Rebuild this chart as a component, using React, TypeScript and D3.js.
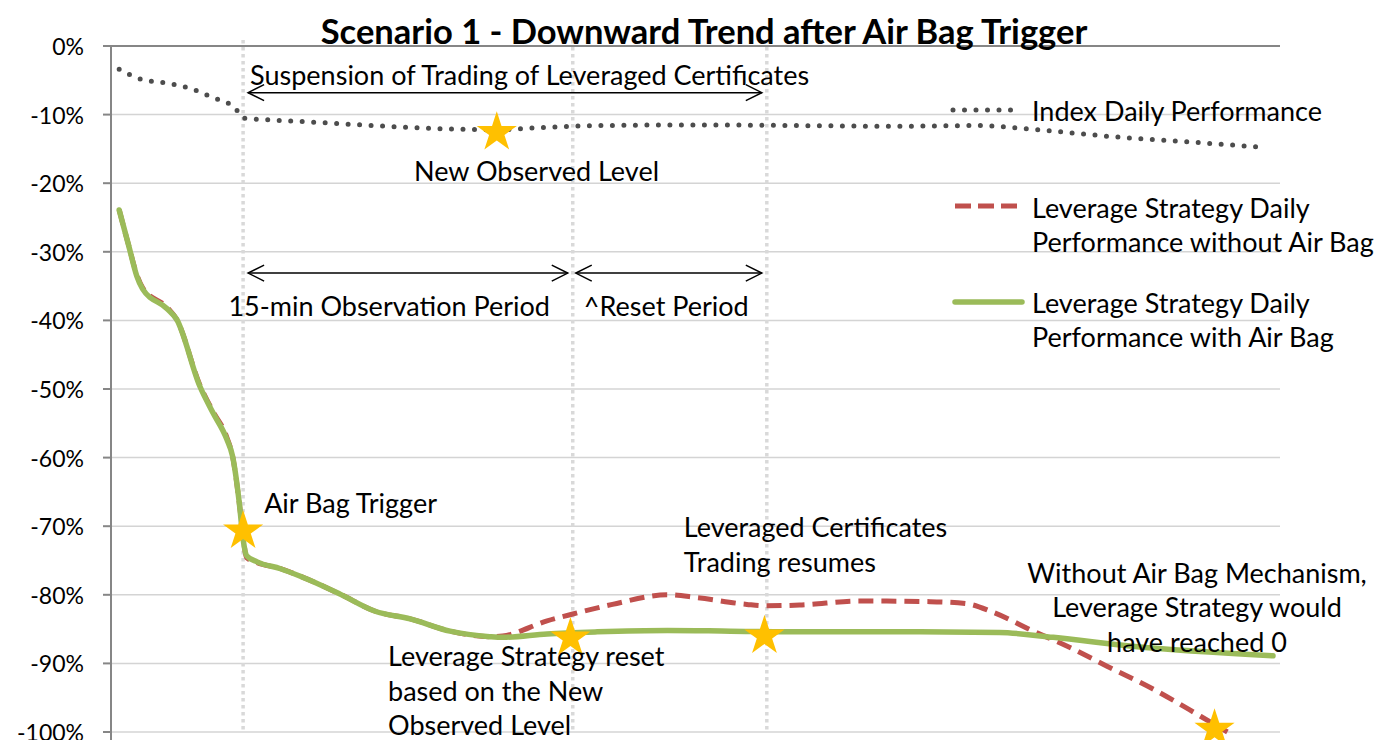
import React from "react";
import * as d3 from "d3";

// ---------- DATA ----------
const yTicks = [0, -10, -20, -30, -40, -50, -60, -70, -80, -90, -100];

// [time index (0-100), performance %]
const indexPerf: [number, number][] = [
  [0.7, -3.4], [2.7, -4.9], [4.8, -5.4], [6.8, -6.2], [8.7, -7.5], [10.6, -9.0], [11.3, -10.5],
  [12.8, -10.7], [16.2, -11.0], [20.4, -11.4], [24.7, -11.8], [29.0, -12.1], [33.0, -12.2],
  [36.7, -11.9], [41.8, -11.6], [50.4, -11.5], [58.9, -11.6], [67.5, -11.7], [74.3, -11.6],
  [77.8, -12.0], [86.3, -13.3], [93.2, -14.1], [98.7, -14.8],
];

const withoutAirBag: [number, number][] = [
  [0.7, -23.9], [1.5, -29.0], [2.2, -33.3], [2.7, -35.2], [4.8, -38.1], [5.6, -39.8], [7.6, -49.4],
  [8.7, -53.2], [9.9, -57.0], [10.4, -59.8], [11.0, -67.0], [11.3, -71.5], [11.6, -74.6],
  [12.5, -75.3], [14.5, -76.2], [16.2, -77.3], [19.6, -79.9], [22.6, -82.4], [25.6, -83.5],
  [29.0, -85.3], [32.4, -86.1], [33.5, -86.0], [37.3, -83.8], [39.5, -82.8], [42.9, -81.4],
  [47.6, -80.0], [50.1, -80.4], [54.4, -81.4], [56.1, -81.6], [58.9, -81.5], [64.1, -80.9],
  [70.1, -81.0], [73.2, -81.3], [75.4, -82.5], [78.9, -85.3], [81.8, -87.5], [85.2, -90.4],
  [89.1, -93.7], [93.2, -97.7], [95.5, -100.0],
];

const withAirBag: [number, number][] = [
  [0.7, -23.9], [1.5, -29.0], [2.2, -33.5], [2.7, -35.4], [4.8, -38.3], [5.6, -39.8], [7.6, -49.6],
  [8.7, -53.4], [9.9, -57.3], [10.4, -59.8], [11.0, -67.0], [11.3, -71.9], [11.6, -74.3],
  [12.5, -75.2], [14.5, -76.2], [16.2, -77.3], [19.6, -79.9], [22.6, -82.4], [25.6, -83.5],
  [29.0, -85.3], [32.4, -86.1], [33.5, -86.2], [37.3, -85.7], [41.6, -85.4], [47.6, -85.2],
  [53.0, -85.3], [58.9, -85.4], [67.5, -85.4], [76.0, -85.5], [80.6, -86.2], [87.4, -87.5],
  [99.4, -88.9],
];

const eventTimes = [11.3, 39.5, 56.1];

const starPoints: [number, number][] = [
  [11.3, -70.7], [33.0, -12.6], [39.3, -86.3], [55.9, -86.0], [94.4, -99.6],
];

const seriesNames = [
  "Index Daily Performance",
  ["Leverage Strategy Daily", "Performance without Air Bag"],
  ["Leverage Strategy Daily", "Performance with Air Bag"],
];

// ---------- LAYOUT ----------
const W = 1380;
const H = 740;
const L = 111, R = 1280, T = 46, B = 732;
const FONT = "Lato, 'Open Sans', sans-serif";

const x = d3.scaleLinear().domain([0, 100]).range([L, R]);
const y = d3.scaleLinear().domain([-100, 0]).range([B, T]);

const line = d3
  .line<[number, number]>()
  .x((d) => x(d[0]))
  .y((d) => y(d[1]))
  .curve(d3.curveMonotoneX);

const starPath = d3.symbol(d3.symbolStar, 500)() as string;

function Arrow({ x1, x2, yy }: { x1: number; x2: number; yy: number }) {
  const hx = 16, hy = 8;
  return (
    <g stroke="#000" strokeWidth={1.5} fill="none">
      <line x1={x1} y1={yy} x2={x2} y2={yy} />
      <path d={`M${x1 + hx},${yy - hy}L${x1},${yy}L${x1 + hx},${yy + hy}`} />
      <path d={`M${x2 - hx},${yy - hy}L${x2},${yy}L${x2 - hx},${yy + hy}`} />
    </g>
  );
}

export default function App() {
  const fs = 27;
  const lh = 34.5;
  const legX = 953;
  const legTextX = 1032;
  return (
    <svg
      width={W}
      height={H}
      style={{ position: "absolute", left: 0, top: 0, background: "#fff" }}
      fontFamily={FONT}
    >
      <rect width={W} height={H} fill="#fff" />
      {/* gridlines */}
      {yTicks.map((t) => (
        <line key={t} x1={L} x2={R} y1={y(t)} y2={y(t)} stroke="#d4d4d4" strokeWidth={1.5} />
      ))}
      {/* event verticals */}
      {eventTimes.map((t) => (
        <line
          key={t}
          x1={x(t)}
          x2={x(t)}
          y1={T - 6}
          y2={B}
          stroke="#d9d9d9"
          strokeWidth={3.5}
          strokeDasharray="3.5 3.5"
        />
      ))}
      {/* axes */}
      <line x1={L} x2={R} y1={y(0)} y2={y(0)} stroke="#868686" strokeWidth={2} />
      <line x1={L} x2={L} y1={T} y2={B + 8} stroke="#868686" strokeWidth={2} />
      {yTicks.map((t) => (
        <g key={t}>
          <line x1={L - 8} x2={L} y1={y(t)} y2={y(t)} stroke="#868686" strokeWidth={2} />
          <text
            x={84}
            y={y(t)}
            textAnchor="end"
            dominantBaseline="central"
            fontSize={23}
            fill="#000"
          >
            {`${t}%`}
          </text>
        </g>
      ))}

      {/* series */}
      <path
        d={line(indexPerf) as string}
        fill="none"
        stroke="#4d4d4d"
        strokeWidth={5}
        strokeLinecap="round"
        strokeDasharray="0 11.5"
      />
      <path
        d={line(withoutAirBag) as string}
        fill="none"
        stroke="#C0504D"
        strokeWidth={5}
        strokeDasharray="15 8"
      />
      <path
        d={line(withAirBag) as string}
        fill="none"
        stroke="#9BBB59"
        strokeWidth={5.5}
        strokeLinecap="round"
        strokeLinejoin="round"
      />

      {/* stars */}
      {starPoints.map((p, i) => (
        <path key={i} d={starPath} transform={`translate(${x(p[0])},${y(p[1])})`} fill="#FFC000" />
      ))}

      {/* title */}
      <text
        x={704}
        y={30}
        textAnchor="middle"
        dominantBaseline="central"
        fontSize={34.5}
        fontWeight="bold"
        fill="#000"
      >
        Scenario 1 - Downward Trend after Air Bag Trigger
      </text>

      {/* annotations */}
      <g fontSize={fs} fill="#000">
        <text x={x(11.9)} y={y(-4.1)} dominantBaseline="central">
          Suspension of Trading of Leveraged Certificates
        </text>
        <text x={x(36.4)} y={y(-18.1)} textAnchor="middle" dominantBaseline="central">
          New Observed Level
        </text>
        <text x={x(23.8)} y={y(-37.8)} textAnchor="middle" dominantBaseline="central">
          15-min Observation Period
        </text>
        <text x={x(47.5)} y={y(-37.8)} textAnchor="middle" dominantBaseline="central">
          ^Reset Period
        </text>
        <text x={x(13.1)} y={y(-66.5)} dominantBaseline="central">
          Air Bag Trigger
        </text>
        {["Leveraged Certificates", "Trading resumes"].map((s, i) => (
          <text key={s} x={x(49.0)} y={y(-70.1) + i * lh} dominantBaseline="central">
            {s}
          </text>
        ))}
        {["Leverage Strategy reset", "based on the New", "Observed Level"].map((s, i) => (
          <text key={s} x={x(23.7)} y={y(-88.9) + i * lh} dominantBaseline="central">
            {s}
          </text>
        ))}
        {["Without Air Bag Mechanism,", "Leverage Strategy would", "have reached 0"].map((s, i) => (
          <text
            key={s}
            x={x(92.9)}
            y={y(-76.7) + i * lh}
            textAnchor="middle"
            dominantBaseline="central"
          >
            {s}
          </text>
        ))}
      </g>

      {/* arrows */}
      <Arrow x1={x(eventTimes[0]) + 5} x2={x(eventTimes[2]) - 5} yy={y(-6.8)} />
      <Arrow x1={x(eventTimes[0]) + 5} x2={x(eventTimes[1]) - 5} yy={y(-33.1)} />
      <Arrow x1={x(eventTimes[1]) + 3} x2={x(eventTimes[2]) - 5} yy={y(-33.1)} />

      {/* legend */}
      <g fontSize={fs} fill="#000">
        <line
          x1={legX}
          x2={legX + 68}
          y1={110}
          y2={110}
          stroke="#4d4d4d"
          strokeWidth={5}
          strokeLinecap="round"
          strokeDasharray="0 11.5"
        />
        <text x={legTextX} y={110} dominantBaseline="central">
          {seriesNames[0] as string}
        </text>
        <line
          x1={legX + 2}
          x2={legX + 68}
          y1={206}
          y2={206}
          stroke="#C0504D"
          strokeWidth={5}
          strokeDasharray="16 7"
        />
        {(seriesNames[1] as string[]).map((s, i) => (
          <text key={i} x={legTextX} y={207 + i * lh} dominantBaseline="central">
            {s}
          </text>
        ))}
        <line
          x1={legX + 2}
          x2={legX + 69}
          y1={302}
          y2={302}
          stroke="#9BBB59"
          strokeWidth={5.5}
          strokeLinecap="round"
        />
        {(seriesNames[2] as string[]).map((s, i) => (
          <text key={i} x={legTextX} y={302 + i * lh} dominantBaseline="central">
            {s}
          </text>
        ))}
      </g>
    </svg>
  );
}
